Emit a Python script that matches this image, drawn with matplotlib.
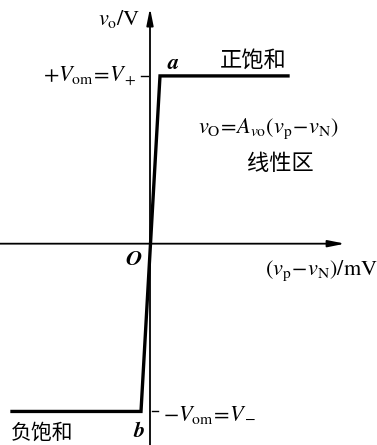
import matplotlib
matplotlib.use("Agg")
import matplotlib.pyplot as plt

plt.rcParams["mathtext.fontset"] = "stix"
plt.rcParams["font.family"] = ["STIXGeneral", "Noto Sans CJK SC"]

# Transfer characteristic of an op-amp (schematic units)
v_in = [-1.38, -0.09, 0.10, 1.38]     # (vP - vN) / mV
v_out = [-12.0, -12.0, 12.0, 12.0]    # vO / V
V_POS = 12.0
V_NEG = -12.0

W, H = 377, 445
fig = plt.figure(figsize=(W / 100, H / 100), dpi=100)
ax = fig.add_axes([0, 0, 1, 1])
ax.set_xlim(-1.50, 2.27)
ax.set_ylim(-14.4, 17.43)
ax.axis("off")

# axes with arrows
arrow = dict(arrowstyle="-|>,head_length=1.0,head_width=0.2", color="black",
             lw=1.3, shrinkA=0, shrinkB=0)
ax.annotate("", xy=(1.95, 0), xytext=(-1.50, 0), arrowprops=arrow)
ax.annotate("", xy=(0, 16.85), xytext=(0, -14.4), arrowprops=arrow)

# characteristic curve
ax.plot(v_in, v_out, color="black", lw=2.4, solid_joinstyle="miter")

# level ticks
ax.plot([-0.09, -0.02], [V_POS, V_POS], color="black", lw=1.0)
ax.plot([0.02, 0.08], [V_NEG, V_NEG], color="black", lw=1.0)


def px(x, y):
    return x / W, 1 - y / H


kw = dict(transform=ax.transAxes, fontsize=16)
ax.text(*px(119, 19), r"$v_{\rm o}/\mathrm{V}$", ha="center", va="center", **kw)
ax.text(*px(137, 76), r"$+V_{\rm om}\!=\!V_+$", ha="right", va="center", **kw)
ax.text(*px(163, 415), r"$-V_{\rm om}\!=\!V_-$", ha="left", va="center", **kw)
ax.text(*px(268, 129), r"$v_{\rm O}\!=\!A_{v{\rm o}}(v_{\rm p}\!-\!v_{\rm N})$",
        ha="center", va="center", **kw)
ax.text(*px(321, 271), r"$(v_{\rm p}\!-\!v_{\rm N})/\mathrm{mV}$",
        ha="center", va="center", **kw)

ital = dict(transform=ax.transAxes, fontsize=16, style="italic",
            weight="bold", family="STIXGeneral", ha="center", va="center")
ax.text(*px(173, 63), "a", **ital)
ax.text(*px(139, 431), "b", **ital)
ax.text(*px(133, 259), "O", **ital)

cjk = dict(transform=ax.transAxes, fontsize=16, family="Noto Sans CJK SC",
           ha="center", va="center")
ax.text(*px(253, 60), "正饱和", **cjk)
ax.text(*px(280, 163), "线性区", **cjk)
ax.text(*px(42, 433), "负饱和", transform=ax.transAxes, fontsize=15,
        family="Noto Sans CJK SC", ha="center", va="center")

fig.savefig("out.png", dpi=100)
